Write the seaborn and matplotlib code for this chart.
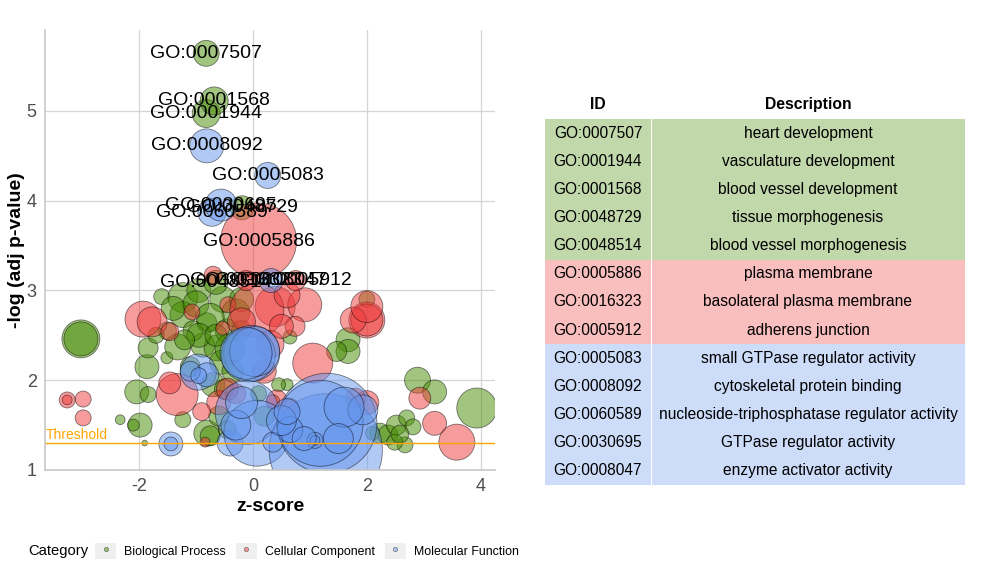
import matplotlib
matplotlib.use("Agg")
import matplotlib.pyplot as plt
import seaborn as sns
import pandas as pd
from matplotlib.lines import Line2D
from matplotlib.patches import Rectangle

# GO terms with labels (also listed in the table)
go_id = ["GO:0007507", "GO:0001944", "GO:0001568", "GO:0048729", "GO:0048514",
         "GO:0005886", "GO:0016323", "GO:0005912",
         "GO:0005083", "GO:0008092", "GO:0060589", "GO:0030695", "GO:0008047"]
go_desc = ["heart development", "vasculature development", "blood vessel development",
           "tissue morphogenesis", "blood vessel morphogenesis",
           "plasma membrane", "basolateral plasma membrane", "adherens junction",
           "small GTPase regulator activity", "cytoskeletal protein binding",
           "nucleoside-triphosphatase regulator activity", "GTPase regulator activity",
           "enzyme activator activity"]
go_cat = ["BP"] * 5 + ["CC"] * 3 + ["MF"] * 5
go_z = [-0.82, -0.82, -0.68, -0.19, -0.65, 0.10, -0.12, 0.75, 0.26, -0.81, -0.72, -0.56, 0.32]
go_logp = [5.64, 4.97, 5.11, 3.92, 3.09, 3.55, 3.11, 3.11, 4.28, 4.61, 3.87, 3.95, 3.11]
go_count = [42, 49, 49, 36, 36, 361, 25, 25, 42, 72, 49, 64, 36]

# remaining (unlabelled) terms
bp_z = [-3.02, -3.02, -2.33, -1.98, -2.10, -1.90, -2.04, -1.84, -1.86, -1.51, -1.84, -1.32,
        -0.88, -0.63, -1.60, -1.23, -1.23, -0.81, -0.53, -1.23, -0.81, -0.75, -1.05, -0.45,
        -0.30, -0.55, -0.40, -0.70, -0.50, -0.20, -0.95, 2.00, 1.67, 1.67, 1.47, 2.89,
        3.19, 3.93, 2.23, 2.37, 2.52, 2.70, 2.81, 2.67, 2.49, 2.10, 2.58, 0.65, 0.20,
        -1.50, -1.10, 0.10, 0.60, -1.40, -1.00, -0.75, -0.95, -0.65, -1.20, -0.35,
        -0.60, -0.45, 0.45, -1.70, -0.20]
bp_logp = [2.46, 2.46, 1.56, 1.50, 1.50, 1.30, 1.87, 1.84, 2.15, 2.25, 2.36, 2.37,
           2.39, 2.36, 2.93, 2.92, 2.73, 2.64, 2.90, 1.56, 1.41, 1.38, 2.55, 2.55,
           2.75, 2.20, 2.35, 1.95, 1.90, 2.90, 3.00, 2.90, 2.45, 2.32, 2.32, 2.00,
           1.87, 1.69, 1.41, 1.39, 1.50, 1.58, 1.48, 1.28, 1.31, 1.41, 1.40, 2.48, 1.60,
           2.55, 2.15, 1.85, 1.95, 2.80, 2.85, 2.70, 2.50, 2.50, 2.45, 2.10,
           1.60, 1.45, 1.95, 2.50, 2.55]
bp_count = [90, 72, 6, 36, 9, 2, 36, 16, 36, 9, 25, 42,
            36, 42, 16, 56, 42, 25, 42, 16, 42, 25, 25, 36,
            49, 36, 56, 36, 25, 36, 36, 16, 36, 36, 25, 42,
            36, 100, 25, 25, 25, 16, 16, 16, 16, 12, 20, 12, 25,
            20, 25, 16, 9, 36, 42, 49, 36, 30, 25, 30,
            25, 20, 12, 16, 25]

cc_z = [-3.26, -3.26, -2.98, -2.98, -1.33, -1.46, -1.93, -1.77, -1.46, -1.07, -0.44, -0.53,
        -0.84, 0.39, 0.07, 0.91, 1.05, 0.74, 0.42, 0.35, 2.00, 2.00, 1.76, 2.00, 2.00,
        1.80, 2.93, 3.19, 3.58, -0.60, -0.30, 0.30, 0.50, -0.70, -0.20, 0.60, 0.20,
        -0.45, 0.65, -0.90]
cc_logp = [1.78, 1.78, 1.79, 1.58, 1.84, 1.97, 2.68, 2.65, 2.54, 2.76, 2.84, 2.58,
           1.31, 2.82, 2.78, 2.84, 2.19, 2.60, 1.78, 1.76, 2.67, 2.67, 2.67, 2.82, 1.75,
           1.80, 1.80, 1.52, 1.31, 1.75, 1.85, 2.40, 2.60, 3.17, 2.65, 2.95, 2.10,
           1.90, 1.70, 1.65]
cc_count = [16, 6, 16, 16, 110, 30, 81, 56, 20, 16, 16, 12,
            6, 100, 182, 72, 100, 25, 25, 12, 81, 64, 42, 64, 36,
            25, 30, 36, 81, 36, 25, 49, 36, 20, 49, 42, 36,
            30, 20, 20]

mf_z = [-1.44, -1.44, -0.96, -0.81, -1.10, -0.95, -0.40, -0.02, -0.08, 0.03, -0.12,
        -0.10, 0.07, 1.28, 1.30, 1.18, 1.09, 1.09, 0.65, 0.35, 1.93, 1.60, 0.50, -0.30,
        0.90, 1.50, -0.20, 0.60]
mf_logp = [1.29, 1.29, 2.09, 2.06, 2.10, 2.05, 1.30, 2.30, 2.28, 2.32, 2.30,
           1.64, 1.41, 1.22, 1.52, 1.52, 1.33, 1.33, 1.45, 1.31, 1.67, 1.70, 1.55, 1.50,
           1.35, 1.35, 1.75, 1.65]
mf_count = [36, 12, 81, 36, 25, 16, 42, 196, 182, 156, 169,
            256, 272, 800, 625, 462, 16, 6, 42, 25, 56, 100, 56, 56,
            36, 56, 64, 42]

palette = {"BP": "#458B00", "CC": "#EE3B3B", "MF": "#6495ED"}
cat_names = {"BP": "Biological Process", "CC": "Cellular Component", "MF": "Molecular Function"}

rows = []
for cat, zs, ps, cs in [("BP", bp_z, bp_logp, bp_count),
                        ("CC", cc_z, cc_logp, cc_count),
                        ("MF", mf_z, mf_logp, mf_count)]:
    for z, p, c in zip(zs, ps, cs):
        rows.append((None, cat, z, p, c))
for i, c, z, p, n in zip(go_id, go_cat, go_z, go_logp, go_count):
    rows.append((i, c, z, p, n))
df = pd.DataFrame(rows, columns=["ID", "category", "zscore", "logp", "count"])
df["order"] = df["category"].map({"BP": 0, "CC": 1, "MF": 2})
df = df.sort_values("order", kind="stable")

sns.set_style("white")
plt.rcParams["font.family"] = ["Liberation Sans", "DejaVu Sans"]
plt.rcParams["text.color"] = "black"
plt.rcParams["axes.labelcolor"] = "black"
plt.rcParams["axes.unicode_minus"] = False

fig = plt.figure(figsize=(10.08, 5.76), dpi=100)
ax = fig.add_axes([45 / 1008, 1 - 470 / 576, 450 / 1008, 440 / 576])

sns.scatterplot(data=df, x="zscore", y="logp", hue="category", palette=palette,
                size="count", sizes=(0, 8290), size_norm=(0, 1000),
                edgecolor="black", linewidth=0.6, alpha=0.5, legend=False, ax=ax)

threshold = 1.30
ax.axhline(threshold, color="orange", lw=1)
ax.text(-3.63, threshold + 0.01, "Threshold", color="orange", fontsize=10,
        ha="left", va="bottom")

for _, r in df[df["ID"].notna()].iterrows():
    ax.text(r["zscore"], r["logp"], r["ID"], fontsize=14, ha="center", va="center",
            color="black")

ax.set_xlim(-3.65, 4.25)
ax.set_ylim(1, 5.9)
ax.set_xticks([-2, 0, 2, 4])
ax.set_yticks([1, 2, 3, 4, 5])
ax.grid(True, color="#d4d4d4", lw=0.9)
ax.set_axisbelow(True)
for s in ["top", "right"]:
    ax.spines[s].set_visible(False)
for s in ["left", "bottom"]:
    ax.spines[s].set_color("#c8c8c8")
    ax.spines[s].set_linewidth(1.2)
ax.tick_params(length=0, labelsize=13, labelcolor="#4d4d4d", pad=6)
ax.set_xlabel("z-score", fontsize=14, fontweight="bold", labelpad=2)
ax.set_ylabel("-log (adj p-value)", fontsize=14, fontweight="bold", labelpad=1)

# legend
fig.text(28 / 1008, 1 - 551 / 576, "Category", fontsize=10.6, va="center")
handles = []
for cat in ["BP", "CC", "MF"]:
    box = Rectangle((0, 0), 1, 1, fc="#efefef", ec="none")
    dot = Line2D([], [], marker="o", ls="", ms=3.2, mfc=palette[cat], mec="black",
                 mew=0.4, alpha=0.5)
    handles.append((box, dot))
fig.legend(handles, [cat_names[c] for c in ["BP", "CC", "MF"]],
           loc="center left", bbox_to_anchor=(95 / 1008, 1 - 551 / 576),
           ncol=3, frameon=False, fontsize=8.9, handlelength=1.7, handleheight=1.7,
           handletextpad=0.65, columnspacing=0.8, borderpad=0, borderaxespad=0)

# table
tax = fig.add_axes([545 / 1008, 1 - 490 / 576, 420 / 1008, 400 / 576])
tax.set_xlim(545, 965)
tax.set_ylim(490, 90)
tax.axis("off")
row_top = 119
row_h = 28.15
tax.text(598, 105, "ID", fontsize=11.3, fontweight="bold", ha="center", va="center")
tax.text(808, 105, "Description", fontsize=11.3, fontweight="bold", ha="center", va="center")
for k, (i, d, c) in enumerate(zip(go_id, go_desc, go_cat)):
    y0 = row_top + k * row_h
    tax.add_patch(Rectangle((545, y0), 105.5, row_h, fc=palette[c], alpha=0.33, ec="none"))
    tax.add_patch(Rectangle((651.5, y0), 313.5, row_h, fc=palette[c], alpha=0.33, ec="none"))
    tax.text(598, y0 + row_h / 2, i, fontsize=11.2, ha="center", va="center")
    tax.text(808, y0 + row_h / 2, d, fontsize=11.2, ha="center", va="center")

fig.savefig("out.png", dpi=100)
